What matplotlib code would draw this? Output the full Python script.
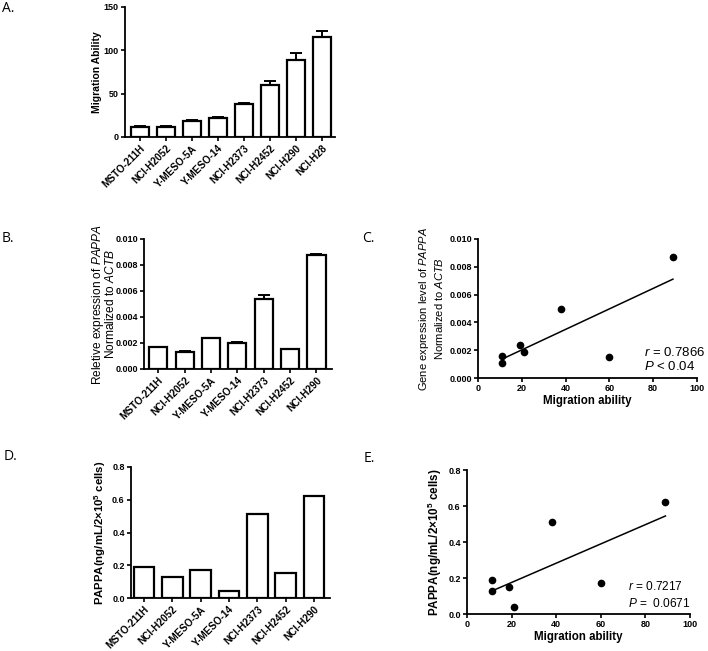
import numpy as np
import matplotlib
matplotlib.use("Agg")
import matplotlib.pyplot as plt

plt.rcParams['font.family'] = ['Liberation Sans', 'DejaVu Sans']
plt.rcParams['mathtext.fontset'] = 'custom'
plt.rcParams['mathtext.rm'] = 'Liberation Sans'
plt.rcParams['mathtext.it'] = 'Liberation Sans:italic'
plt.rcParams['mathtext.bf'] = 'Liberation Sans:bold'

# ---- data ----
cells_a = ["MSTO-211H", "NCI-H2052", "Y-MESO-5A", "Y-MESO-14",
           "NCI-H2373", "NCI-H2452", "NCI-H290", "NCI-H28"]
migration = [11.5, 11.5, 19, 21.5, 38, 60, 89, 115]
migration_err = [1.0, 1.0, 0.8, 1.8, 1.0, 5.0, 8.0, 7.5]

cells_b = cells_a[:7]
pappa_expr = [0.00168, 0.00128, 0.0024, 0.00198, 0.0054, 0.00153, 0.0088]
pappa_expr_err = [0.00004, 0.00007, 0.00002, 0.00008, 0.00033, 0.00004, 0.00002]

scat_c_x = [11, 11, 19, 21, 38, 60, 89]
scat_c_y = [0.0016, 0.0011, 0.0024, 0.0019, 0.0050, 0.0015, 0.0087]

pappa_protein = [0.19, 0.13, 0.17, 0.04, 0.51, 0.15, 0.62]

scat_e_x = [11, 11, 19, 21, 38, 60, 89]
scat_e_y = [0.19, 0.13, 0.15, 0.04, 0.51, 0.17, 0.62]

W, H = 708, 651
fig = plt.figure(figsize=(W / 100, H / 100), dpi=100)


def add_ax(left, top, right, bottom):
    return fig.add_axes([left / W, 1 - bottom / H, (right - left) / W, (bottom - top) / H])


def style(ax, xlab_size=6.5):
    for s in ['top', 'right']:
        ax.spines[s].set_visible(False)
    for s in ['left', 'bottom']:
        ax.spines[s].set_linewidth(1.3)
    ax.tick_params(width=1.2, length=3, labelsize=6.5, pad=1.5)
    ax.tick_params(axis='x', labelsize=xlab_size)
    for lab in ax.get_yticklabels() + ax.get_xticklabels():
        lab.set_fontweight('bold')
        lab.set_family(['Liberation Sans', 'DejaVu Sans'])


def bar_panel(ax, cats, vals, errs, width, xlim):
    x = np.arange(len(cats))
    ax.bar(x, vals, width=width, color='white', edgecolor='black', linewidth=1.6, zorder=2)
    if errs is not None:
        e = np.array(errs)
        ax.errorbar(x, vals, yerr=np.vstack([np.zeros_like(e), e]), fmt='none',
                    ecolor='black', elinewidth=1.4, capsize=4, capthick=1.4, zorder=3)
    ax.set_xticks(x)
    ax.set_xticklabels(cats, rotation=45, ha='right', rotation_mode='anchor')
    ax.set_xlim(*xlim)


def scatter_panel(ax, xs, ys):
    xs = np.array(xs); ys = np.array(ys)
    ax.plot(xs, ys, 'o', color='black', markersize=4.5, zorder=3)
    k, b = np.polyfit(xs, ys, 1)
    xl = np.array([xs.min(), xs.max()])
    ax.plot(xl, k * xl + b, color='black', linewidth=1.1)
    ax.set_xlim(0, 100)
    ax.set_xticks([0, 20, 40, 60, 80, 100])
    ax.set_xlabel("Migration ability", fontsize=8.3, fontweight='bold', labelpad=1)


# Panel A
axA = add_ax(125, 7, 335, 137)
bar_panel(axA, cells_a, migration, migration_err, 0.7, (-0.57, 7.5))
axA.set_ylim(0, 150)
axA.set_yticks([0, 50, 100, 150])
style(axA, 7.2)
axA.set_ylabel("Migration Ability", fontsize=7.5, fontweight='bold', labelpad=1)

# Panel B
axB = add_ax(144, 239, 332, 369)
bar_panel(axB, cells_b, pappa_expr, pappa_expr_err, 0.69, (-0.54, 6.59))
axB.set_ylim(0, 0.010)
axB.set_yticks([0, 0.002, 0.004, 0.006, 0.008, 0.010])
axB.set_yticklabels(["0.000", "0.002", "0.004", "0.006", "0.008", "0.010"])
style(axB, 7.2)
axB.set_ylabel("Reletive expression of $\\it{PAPPA}$\nNormalized to $\\it{ACTB}$",
               fontsize=8.6, labelpad=-1, linespacing=0.8)

# Panel C
axC = add_ax(478, 239, 697, 378)
scatter_panel(axC, scat_c_x, scat_c_y)
axC.set_ylim(0, 0.010)
axC.set_yticks([0, 0.002, 0.004, 0.006, 0.008, 0.010])
axC.set_yticklabels(["0.000", "0.002", "0.004", "0.006", "0.008", "0.010"])
style(axC)
axC.set_ylabel("Gene expression level of $\\it{PAPPA}$\nNormalized to $\\it{ACTB}$",
               fontsize=8, labelpad=3, linespacing=1.15)
axC.text(76, 0.00187, "$\\it{r}$ = 0.7866", fontsize=9.5, va='center', ha='left')
axC.text(76, 0.0008, "$\\it{P}$ < 0.04", fontsize=9.5, va='center', ha='left')

# Panel D
axD = add_ax(131, 467, 330, 598)
bar_panel(axD, cells_b, pappa_protein, None, 0.73, (-0.46, 6.56))
axD.set_ylim(0, 0.8)
axD.set_yticks([0, 0.2, 0.4, 0.6, 0.8])
axD.set_yticklabels(["0.0", "0.2", "0.4", "0.6", "0.8"])
style(axD, 7.2)
axD.set_ylabel("PAPPA(ng/mL/2×10$^{\\mathbf{5}}$ cells)", fontsize=8.2, fontweight='bold', labelpad=3)

# Panel E
axE = add_ax(467, 470, 690, 614)
scatter_panel(axE, scat_e_x, scat_e_y)
axE.set_ylim(0, 0.8)
axE.set_yticks([0, 0.2, 0.4, 0.6, 0.8])
axE.set_yticklabels(["0.0", "0.2", "0.4", "0.6", "0.8"])
style(axE)
axE.set_ylabel("PAPPA(ng/mL/2×10$^{\\mathbf{5}}$ cells)", fontsize=8.4, fontweight='bold', labelpad=3)
axE.text(72, 0.15, "$\\it{r}$ = 0.7217", fontsize=8.6, va='center', ha='left')
axE.text(72, 0.061, "$\\it{P}$ =  0.0671", fontsize=8.6, va='center', ha='left')

# Panel labels
for lbl, px, py in [("A.", 2, 8), ("B.", 2, 238), ("C.", 362, 238), ("D.", 4, 457), ("E.", 364, 458)]:
    fig.text(px / W, 1 - py / H, lbl, fontsize=10, family='Open Sans', va='center', ha='left')

fig.savefig("out.png", dpi=100)
